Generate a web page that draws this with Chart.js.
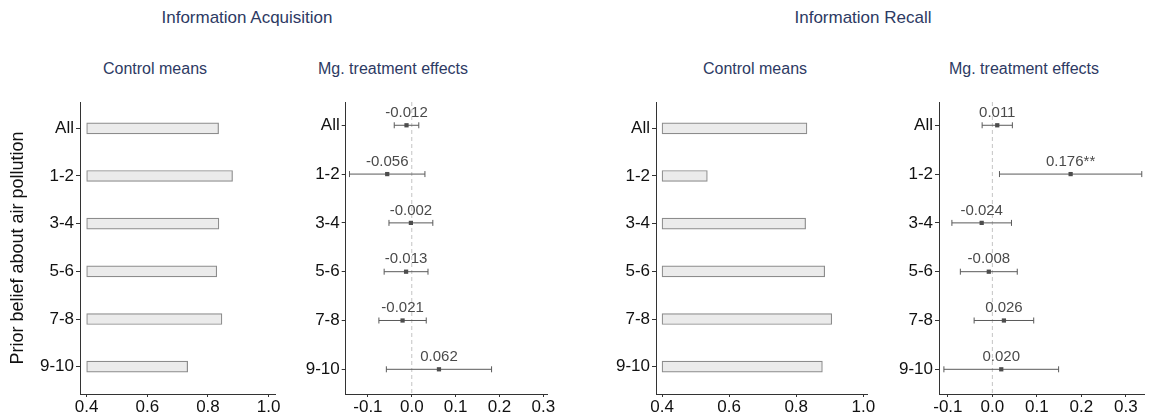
<!DOCTYPE html>
<html><head><meta charset="utf-8">
<script src="https://cdn.jsdelivr.net/npm/chart.js@4.4.0/dist/chart.umd.min.js"></script>
<style>
html,body{margin:0;padding:0;background:#fff;}
body{width:1149px;height:414px;overflow:hidden;position:relative;font-family:"Liberation Sans",Arial,sans-serif;}
canvas{position:absolute;}
.t{position:absolute;color:#2d3a63;white-space:nowrap;transform:translate(-50%,-50%);line-height:1.15;}
</style></head><body>
<div class="t" style="left:247px;top:18px;font-size:17px">Information Acquisition</div>
<div class="t" style="left:863px;top:18px;font-size:17px">Information Recall</div>
<div class="t" style="left:155px;top:69px;font-size:16px">Control means</div>
<div class="t" style="left:393px;top:69px;font-size:16px">Mg. treatment effects</div>
<div class="t" style="left:755px;top:69px;font-size:16px">Control means</div>
<div class="t" style="left:1024px;top:69px;font-size:16px">Mg. treatment effects</div>
<canvas id="c1" width="290" height="319" style="left:0px;top:95px"></canvas>
<canvas id="c2" width="285" height="319" style="left:290px;top:95px"></canvas>
<canvas id="c3" width="285" height="319" style="left:600px;top:95px"></canvas>
<canvas id="c4" width="269" height="319" style="left:880px;top:95px"></canvas>
<script>
// ---- data ----
const categories = ['All','1-2','3-4','5-6','7-8','9-10'];
const acqControl = [0.835,0.881,0.836,0.829,0.846,0.733];
const recControl = [0.832,0.535,0.828,0.885,0.906,0.878];
const acqEffect = [-0.012,-0.056,-0.002,-0.013,-0.021,0.062];
const acqLow    = [-0.040,-0.142,-0.052,-0.063,-0.075,-0.058];
const acqHigh   = [0.016,0.030,0.048,0.037,0.033,0.182];
const acqLabels = ['-0.012','-0.056','-0.002','-0.013','-0.021','0.062'];
const recEffect = [0.011,0.176,-0.024,-0.008,0.026,0.020];
const recLow    = [-0.023,0.016,-0.091,-0.072,-0.041,-0.109];
const recHigh   = [0.045,0.336,0.043,0.056,0.093,0.149];
const recLabels = ['0.011','0.176**','-0.024','-0.008','0.026','0.020'];
const ctrlTicks = [0.4,0.6,0.8,1.0];
const effTicks = [-0.1,0.0,0.1,0.2,0.3];
const barStart = 0.4;
const yTitle = 'Prior belief about air pollution';

// ---- helpers ----
const FF = '"Liberation Sans", Arial, sans-serif';
const AX = '#333333';
function yAxis(min, max, width, title){
  const cfg = {
    type:'linear', reverse:true, min:min, max:max, offset:false,
    afterBuildTicks: s => { s.ticks = categories.map((c,i)=>({value:i})); },
    afterFit: s => { s.width = width; s.paddingTop = 0; s.paddingBottom = 0; },
    ticks:{callback:v=>categories[v], font:{size:17,family:FF}, color:'#111', padding:2, autoSkip:false},
    grid:{drawOnChartArea:false, offset:false, tickLength:4, color:AX, lineWidth:1},
    border:{display:true, color:AX, width:1}
  };
  if(title){
    cfg.title = {display:true, text:title, font:{size:18,family:FF}, color:'#111', padding:{top:7,bottom:0}};
  }
  return cfg;
}
function xAxis(min, max, tickArr){
  return {
    type:'linear', min:min, max:max, offset:false,
    afterBuildTicks: s => { s.ticks = tickArr.map(v=>({value:v})); },
    afterFit: s => { s.height = 20; s.paddingLeft = 0; s.paddingRight = 0; },
    ticks:{callback:v=>Number(v).toFixed(1), font:{size:17,family:FF}, color:'#111', padding:0, maxRotation:0, autoSkip:false},
    grid:{drawOnChartArea:false, offset:false, tickLength:3, color:AX, lineWidth:1},
    border:{display:true, color:AX, width:1}
  };
}
function controlChart(id, values, padRight, yWidth, xmin, xmax, title){
  return new Chart(document.getElementById(id), {
    type:'bar',
    data:{datasets:[{
      data: values.map((v,i)=>({x:[barStart, v], y:i})),
      backgroundColor:'#ebebeb', borderColor:'#8c8c8c', borderWidth:1.2,
      barThickness:11, borderSkipped:false
    }]},
    options:{
      indexAxis:'y', responsive:false, animation:false, devicePixelRatio:1,
      layout:{padding:{top:7,right:padRight,left:0,bottom:0}},
      plugins:{legend:{display:false}, tooltip:{enabled:false}},
      scales:{ y: yAxis(-0.552, 5.573, yWidth, title), x: xAxis(xmin, xmax, ctrlTicks) }
    }
  });
}
const labelPlugin = {
  id:'valueLabels',
  afterDatasetsDraw(chart){
    const o = chart.options.plugins.valueLabels;
    if(!o) return;
    const ctx = chart.ctx, xs = chart.scales.x, ys = chart.scales.y;
    ctx.save();
    ctx.font = '15px ' + FF;
    ctx.fillStyle = '#4a4a4a';
    ctx.textAlign = 'center';
    ctx.textBaseline = 'middle';
    o.values.forEach((v,i)=>{
      ctx.fillText(o.labels[i], xs.getPixelForValue(v), ys.getPixelForValue(i) - 12.5);
    });
    ctx.restore();
  }
};
function effectChart(id, est, lo, hi, labels, padRight, yWidth, xmin, xmax){
  const ymin = -0.477, ymax = 5.506;
  const ds = [];
  ds.push({type:'line', data:[{x:0,y:ymin},{x:0,y:ymax}], borderColor:'#c4c4c4', borderWidth:1,
           borderDash:[4,3], pointRadius:0, order:3});
  categories.forEach((c,i)=>{
    ds.push({type:'line', data:[{x:lo[i],y:i},{x:hi[i],y:i}], borderColor:'#5a5a5a', borderWidth:1,
             pointStyle:'line', rotation:90, pointRadius:3, pointBorderColor:'#5a5a5a', pointBorderWidth:1,
             order:2, clip:false});
  });
  ds.push({type:'scatter', data: est.map((v,i)=>({x:v,y:i})), pointStyle:'rect', pointRadius:3,
           backgroundColor:'#4d4d4d', borderColor:'#4d4d4d', borderWidth:0, order:1, clip:false});
  return new Chart(document.getElementById(id), {
    type:'scatter',
    data:{datasets:ds},
    options:{
      responsive:false, animation:false, devicePixelRatio:1,
      layout:{padding:{top:7,right:padRight,left:0,bottom:0}},
      plugins:{legend:{display:false}, tooltip:{enabled:false}, valueLabels:{values:est, labels:labels}},
      scales:{ y: yAxis(ymin, ymax, yWidth, null), x: xAxis(xmin, xmax, effTicks) }
    },
    plugins:[labelPlugin]
  });
}
controlChart('c1', acqControl, 15, 80, 0.378, 1.021, yTitle);
effectChart('c2', acqEffect, acqLow, acqHigh, acqLabels, 27.3, 55.7, -0.1507, 0.310);
controlChart('c3', recControl, 18, 56, 0.382, 1.011, null);
effectChart('c4', recEffect, recLow, recHigh, recLabels, 1, 59, -0.120, 0.341);
</script>
</body></html>
